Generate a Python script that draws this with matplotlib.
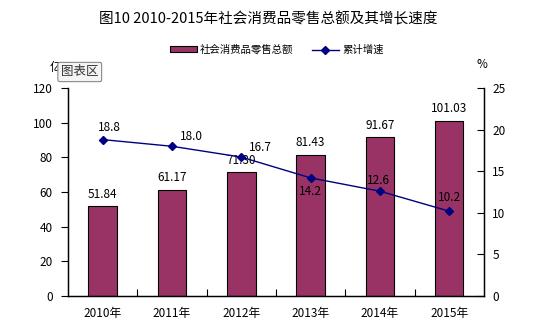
import matplotlib
matplotlib.use("Agg")
import matplotlib.pyplot as plt
from matplotlib.ticker import MultipleLocator

plt.rcParams['font.family'] = ['Noto Sans CJK SC', 'DejaVu Sans']

# data
years = ["2010年", "2011年", "2012年", "2013年", "2014年", "2015年"]
retail_sales = [51.84, 61.17, 71.30, 81.43, 91.67, 101.03]   # 亿元
growth_rate = [18.8, 18.0, 16.7, 14.2, 12.6, 10.2]            # %

# label offsets for the growth labels (points)
growth_offsets = [(5, 9), (14, 7), (14, 7), (0, -10), (-1, 8), (0, 10)]

bar_color = "#993366"
line_color = "#000080"

fig = plt.figure(figsize=(5.37, 3.29), dpi=100)
ax = fig.add_axes([0.1266, 0.100, 0.7746, 0.6325])
ax2 = ax.twinx()

x = list(range(len(years)))

# bars on the left axis
ax.bar(x, retail_sales, width=0.41, color=bar_color, edgecolor="black",
       linewidth=0.8, label="社会消费品零售总额", zorder=2)
for xi, v in zip(x, retail_sales):
    ax.annotate(f"{v:.2f}", (xi, v), xytext=(0, 4), textcoords="offset points",
                ha="center", va="bottom", fontsize=8.5)

ax.set_xlim(-0.5, len(years) - 0.5)
ax.set_ylim(0, 120)
ax.yaxis.set_major_locator(MultipleLocator(20))
ax.set_xticks(x, years)
ax.set_xticks([i + 0.5 for i in x[:-1]], minor=True)
ax.tick_params(axis="x", which="major", length=0, pad=8, labelsize=8.5)
ax.tick_params(axis="x", which="minor", direction="in", length=5, width=0.8)
ax.tick_params(axis="y", direction="out", length=5, width=0.8, pad=6, labelsize=8.5)

# growth line on the right axis
ax2.plot(x, growth_rate, color=line_color, linewidth=1.0, marker="D",
         markersize=4, label="累计增速", zorder=3)
for xi, v, off in zip(x, growth_rate, growth_offsets):
    ax2.annotate(f"{v:.1f}", (xi, v), xytext=off, textcoords="offset points",
                 ha="center", va="center", fontsize=8.5)
ax2.set_ylim(0, 25)
ax2.yaxis.set_major_locator(MultipleLocator(5))
ax2.tick_params(axis="y", direction="in", length=5, width=0.8, pad=6, labelsize=8.5)

for a in (ax, ax2):
    a.spines["top"].set_visible(False)
    for s in ("left", "right", "bottom"):
        a.spines[s].set_linewidth(0.9)

# title, units, legend
fig.text(0.5, 1 - 19 / 329, "图10 2010-2015年社会消费品零售总额及其增长速度",
         ha="center", va="center", fontsize=10.5)
fig.text(50 / 537, 1 - 67 / 329, "亿元", ha="left", va="center", fontsize=8.5)
fig.text(482 / 537, 1 - 65 / 329, "%", ha="center", va="center", fontsize=8.5)

h1, l1 = ax.get_legend_handles_labels()
h2, l2 = ax2.get_legend_handles_labels()
fig.legend(h1 + h2, l1 + l2, loc="center", bbox_to_anchor=(0.515, 1 - 50 / 329),
           ncol=2, frameon=False, fontsize=7.5, handlelength=2.6,
           handleheight=0.5, columnspacing=1.8, handletextpad=0.3)

# the "图表区" tooltip seen in the screenshot
fig.text(61 / 537, 1 - 72 / 329, "图表区", ha="left", va="center", fontsize=9,
         color="#333333", zorder=10,
         bbox=dict(boxstyle="round,pad=0.25,rounding_size=0.15",
                   facecolor="#f4f4f4", edgecolor="#8a8a8a", linewidth=0.8))

fig.savefig("out.png", dpi=100)
